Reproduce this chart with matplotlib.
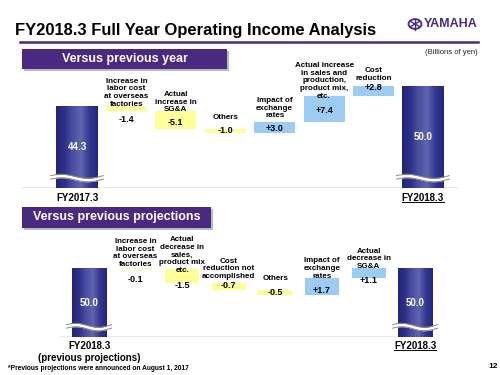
import matplotlib
matplotlib.use('Agg')
import matplotlib.pyplot as plt
import numpy as np
from matplotlib.colors import LinearSegmentedColormap
from matplotlib.patches import Rectangle, Circle
from matplotlib.lines import Line2D

plt.rcParams['font.family'] = ['Liberation Sans', 'DejaVu Sans']

# Data (billions of yen)
year_start_label = 'FY2017.3'
year_end_label = 'FY2018.3'
year_start = 44.3
year_end = 50.0
year_items = ['Increase in\nlabor cost\nat overseas\nfactories',
              'Actual\nincrease in\nSG&A',
              'Others',
              'Impact of\nexchange\nrates',
              'Actual increase\nin sales and\nproduction,\nproduct mix,\netc.',
              'Cost\nreduction']
year_deltas = [-1.4, -5.1, -1.0, 3.0, 7.4, 2.8]

proj_start_label = 'FY2018.3\n(previous projections)'
proj_end_label = 'FY2018.3'
proj_start = 50.0
proj_end = 50.0
proj_items = ['Increase in\nlabor cost\nat overseas\nfactories',
              'Actual\ndecrease in\nsales,\nproduct mix\netc.',
              'Cost\nreduction not\naccomplished',
              'Others',
              'Impact of\nexchange\nrates',
              'Actual\ndecrease in\nSG&A']
proj_deltas = [-0.1, -1.5, -0.7, -0.5, 1.7, 1.1]

# Colours
PURPLE = '#4a2a80'
YELLOW = '#ffff99'
BLUE = '#9ccbf4'
bar_cmap = LinearSegmentedColormap.from_list(
    'bar', ['#222575', '#2e3189', '#4c4fa2', '#6164ae', '#353892', '#24277c'])

W, H = 500, 375
fig = plt.figure(figsize=(5, 3.75), dpi=100)


def fx(x):
    return x / W


def fy(y):
    return 1 - y / H


# Title, rule and logo
fig.text(fx(15), fy(30), 'FY2018.3 Full Year Operating Income Analysis',
         fontsize=11.9, fontweight='bold', va='center', ha='left')
fig.add_artist(Line2D([fx(20), fx(478)], [fy(42), fy(42)], color=PURPLE, lw=1.8))
fig.text(fx(478), fy(24), 'YAMAHA', fontsize=9, fontweight='bold', color=PURPLE,
         ha='right', va='center')
logo = Circle((fx(415), fy(24)), 6.5 / W, transform=fig.transFigure,
              fill=False, ec=PURPLE, lw=1.3)
fig.add_artist(logo)
for ang in (90, 30, 150):
    a = np.deg2rad(ang)
    fig.add_artist(Line2D([fx(415 - 5.5 * np.cos(a)), fx(415 + 5.5 * np.cos(a))],
                          [fy(24 - 5.5 * np.sin(a)), fy(24 + 5.5 * np.sin(a))],
                          color=PURPLE, lw=1.0))
fig.text(fx(478), fy(53), '(Billions of yen)', fontsize=5.5, ha='right', va='center',
         color='#222222')


def header(x0, x1, y0, y1, text):
    fig.add_artist(Rectangle((fx(x0 + 2), fy(y1 + 2)), (x1 - x0) / W, (y1 - y0) / H,
                             transform=fig.transFigure, color='#b8b8c0', lw=0))
    fig.add_artist(Rectangle((fx(x0), fy(y1)), (x1 - x0) / W, (y1 - y0) / H,
                             transform=fig.transFigure, color=PURPLE, lw=0))
    fig.text(fx((x0 + x1) / 2), fy((y0 + y1) / 2), text, color='white',
             fontsize=9, fontweight='bold', ha='center', va='center')


header(22, 227, 49, 69, 'Versus previous year')
header(22, 211, 207, 228, 'Versus previous projections')


def big_bar(ax, x, value, width):
    y0 = ax.get_ylim()[0]
    bars = ax.bar([x], [value - y0], bottom=y0, width=width, color='#3b3e96', lw=0, zorder=2)
    rect = bars[0]
    img = ax.imshow(np.linspace(0, 1, 64)[None, :], cmap=bar_cmap, aspect='auto',
                    extent=[x - width / 2, x + width / 2, y0, value], zorder=3)
    img.set_clip_path(rect)
    ax.text(x, (y0 + value) / 2, f'{value:.1f}', color='white', fontsize=7,
            fontweight='bold', ha='center', va='center', zorder=5)
    # axis break wave
    upp = (ax.get_ylim()[1] - y0) / (ax.bbox.height)
    t = np.linspace(0, 1, 60)
    xs = x - width / 2 - 0.12 + t * (width + 0.24)
    yb = y0 + 10 * upp + 2.0 * upp * np.sin(2 * np.pi * t + 0.3)
    gap = 3.5 * upp
    ax.fill_between(xs, yb - gap / 2, yb + gap / 2, color='white', lw=0, zorder=4)
    ax.plot(xs, yb - gap / 2, color='#8a8a8a', lw=0.7, zorder=4)
    ax.plot(xs, yb + gap / 2, color='#8a8a8a', lw=0.7, zorder=4)


def waterfall(ax, start, end, deltas, items, width, lab_off, val_off,
              start_label, end_label, label_px):
    n = len(deltas)
    big_bar(ax, 0, start, width)
    big_bar(ax, n + 1, end, width)
    level = start
    for i, d in enumerate(deltas):
        x = i + 1
        col = YELLOW if d < 0 else BLUE
        ax.bar([x], [d], bottom=level, width=width, color=col, lw=0, zorder=2)
        top = max(level, level + d)
        mid = level + d / 2
        ax.annotate(items[i], (x, top), xytext=(0, lab_off[i]), textcoords='offset pixels',
                    ha='center', va='bottom', fontsize=5.8, fontweight='bold',
                    linespacing=1.15, zorder=6)
        ax.annotate(f'{d:+.1f}' if d > 0 else f'{d:.1f}', (x, mid),
                    xytext=(0, val_off[i]), textcoords='offset pixels',
                    ha='center', va='center', fontsize=6.5, fontweight='bold', zorder=6)
        level += d
    y0 = ax.get_ylim()[0]
    ax.annotate(start_label, (0, y0), xytext=(0, -label_px), textcoords='offset pixels',
                ha='center', va='top', fontsize=7, fontweight='bold', linespacing=1.25)
    end_txt = ax.annotate(end_label, (n + 1, y0), xytext=(0, -label_px),
                          textcoords='offset pixels', ha='center', va='top',
                          fontsize=7, fontweight='bold')
    return end_txt


# Versus previous year
ax1 = fig.add_axes([fx(22), fy(188), 436 / W, 133 / H])
ax1.set_xlim(-1.113, 7.71)
ax1.set_ylim(21.35, 58.7)
ax1.axis('off')
ax1.axhline(21.35, color='#8a8a8a', lw=1.0, zorder=1)
t1 = waterfall(ax1, year_start, year_end, year_deltas, year_items, 0.83,
               [-1.7, -2, 8.4, 3, -4, 4], [-11, -2.3, 0.5, -1.3, -1, 3],
               year_start_label, year_end_label, 5)

# Versus previous projections
ax2 = fig.add_axes([fx(22), fy(337), 436 / W, 107 / H])
ax2.set_xlim(-1.438, 7.918)
ax2.set_ylim(42.74, 54.0)
ax2.axis('off')
ax2.axhline(42.74, xmin=0.087, xmax=0.94, color='#8a8a8a', lw=1.0, zorder=1)
t2 = waterfall(ax2, proj_start, proj_end, proj_deltas, proj_items, 0.73,
               [0, -5, 3, 8, -1.5, -2], [-11.5, -9, 1.5, 0, -3.5, -7],
               proj_start_label, proj_end_label, 4)

# underline the FY2018.3 result labels
fig.canvas.draw()
for t in (t1, t2):
    bb = t.get_window_extent().transformed(fig.transFigure.inverted())
    fig.add_artist(Line2D([bb.x0, bb.x1], [bb.y0 + 0.004, bb.y0 + 0.004],
                          color='black', lw=0.7))

fig.text(fx(8), fy(369), '*Previous projections were announced on August 1, 2017',
         fontsize=4.8, fontweight='bold', ha='left', va='center')
fig.text(fx(493), fy(367), '12', fontsize=6, fontweight='bold', ha='center', va='center')

fig.savefig('out.png', dpi=100)
